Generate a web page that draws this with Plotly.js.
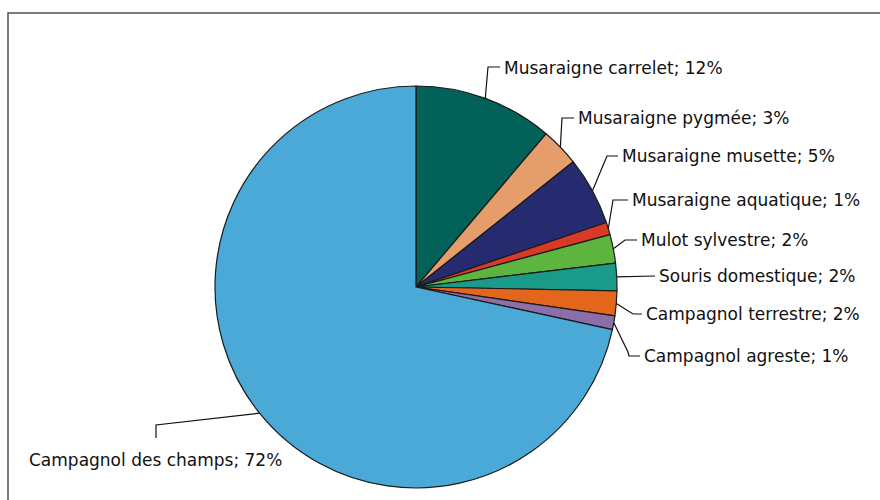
<!DOCTYPE html>
<html><head><meta charset="utf-8">
<script src="https://cdn.plot.ly/plotly-3.0.1.min.js"></script>
<style>html,body{margin:0;padding:0;background:#fff;}#chart{width:880px;height:500px;}</style>
</head><body><div id="chart"></div>
<script>
// ---- data ----
const categories = ['Musaraigne carrelet','Musaraigne pygmée','Musaraigne musette','Musaraigne aquatique','Mulot sylvestre','Souris domestique','Campagnol terrestre','Campagnol agreste','Campagnol des champs'];
const values = [11.2, 3.1, 5.5, 1.0, 2.3, 2.2, 2.0, 1.1, 71.6];
const pctLabels = ['12%','3%','5%','1%','2%','2%','2%','1%','72%'];
// ---- style ----
const colors = ['#02625a','#e59d6c','#262a6e','#d93a26','#5db43e','#1a9a88','#e4661d','#8c6fa9','#4aa9d6'];
const W = 880, H = 500;
const cx = 416, cy = 287, R = 201;
// label text anchors (left x, middle y) and leader elbow points, in pixels
const labelPos = [[502,68],[576,118],[620,156],[630,200],[639,240],[657,276],[644,314],[642,356],[27,460]];
const elbows = [
  [[488,67],[500,67]],
  [[562,118],[574,118]],
  [[607,156],[618,156]],
  [[613,200],[628,200]],
  [[625,240],[637,240]],
  [[655,276]],
  [[633,314],[642,314]],
  [[628,352],[629,356],[640,356]],
  [[156,425],[156,438]]
];
const px = x => x / W, py = y => 1 - y / H;

const total = values.reduce((a,b)=>a+b,0);
let cum = 0;
const shapes = [{type:'rect', xref:'paper', yref:'paper', x0:px(8), y0:py(13), x1:px(890), y1:py(510), line:{color:'#505050', width:1.5}}];
const annotations = [];
values.forEach((v,i)=>{
  const mid = (cum + v/2) / total * 2 * Math.PI;
  cum += v;
  const sx = cx + R*Math.sin(mid), sy = cy - R*Math.cos(mid);
  let path = 'M' + px(sx) + ',' + py(sy);
  elbows[i].forEach(p => { path += ' L' + px(p[0]) + ',' + py(p[1]); });
  shapes.push({type:'path', xref:'paper', yref:'paper', path:path, line:{color:'#111', width:1.2}});
  annotations.push({xref:'paper', yref:'paper', x:px(labelPos[i][0]), y:py(labelPos[i][1]), xanchor:'left', yanchor:'middle',
    text: categories[i] + '; ' + pctLabels[i], showarrow:false, font:{family:'DejaVu Sans', size:17, color:'#111'}});
});

const trace = {type:'pie', labels:categories, values:values, sort:false, direction:'clockwise', rotation:0,
  textinfo:'none', hoverinfo:'label+percent', showlegend:false,
  marker:{colors:colors, line:{color:'#1a1a1a', width:1.2}},
  domain:{x:[px(cx-R), px(cx+R)], y:[py(cy+R), py(cy-R)]}};

Plotly.newPlot('chart', [trace], {width:W, height:H, margin:{l:0,r:0,t:0,b:0}, paper_bgcolor:'#fff',
  shapes:shapes, annotations:annotations, showlegend:false}, {displayModeBar:false, staticPlot:true});
</script></body></html>
